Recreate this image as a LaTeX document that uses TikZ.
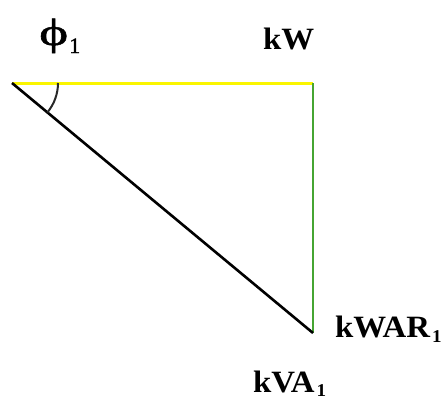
\documentclass[tikz,border=0pt]{standalone}
\usepackage{fontspec}
\setmainfont[FakeStretch=1.06]{Liberation Serif}
\newfontfamily\phifont[FakeBold=1.2]{Liberation Serif}
\newcommand{\lowsub}[2][5pt]{\kern2pt\raisebox{-#1}{\fontsize{18}{18}\selectfont #2}}
\begin{document}
\begin{tikzpicture}[x=1pt,y=-1pt,
  lbl/.style={anchor=base west,inner sep=0pt,font=\fontsize{31}{36}\selectfont\bfseries},
  yline/.style={draw={rgb,255:red,250;green,245;blue,0},line width=3pt},
  gline/.style={draw={rgb,255:red,70;green,165;blue,50},line width=2.8pt},
  kline/.style={draw=black,line width=2.6pt},
  arcline/.style={draw={rgb,255:red,40;green,40;blue,40},line width=2pt}]
\useasboundingbox (0,0) rectangle (444,399);
\coordinate (A) at (12,83);
\coordinate (B) at (313,83);
\coordinate (C) at (313,333);
\draw[yline] (A) -- (B);
\draw[gline] (B) -- (C);
\draw[kline] (A) -- (C);
\draw[arcline] (58,83) arc[start angle=0,end angle=39.7,radius=46];
\node[anchor=base west,inner sep=0pt,font=\fontsize{38}{44}\phifont] (phi) at (39,45) {\scalebox{1.45}[1]{ϕ}\kern1pt\raisebox{-8pt}{\fontsize{22}{22}\selectfont 1}};
\node[lbl] (kw) at (263,49) {kW};
\node[lbl] (kwar) at (335,337) {kWAR\lowsub{1}};
\node[lbl] (kva) at (253,392) {kVA\lowsub[4pt]{1}};
\end{tikzpicture}
\end{document}
